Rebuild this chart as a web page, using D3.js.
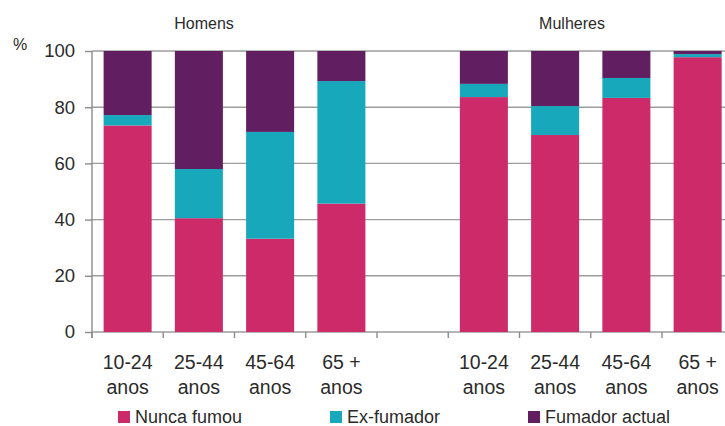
<!DOCTYPE html>
<html lang="pt">
<head>
<meta charset="utf-8">
<script src="https://d3js.org/d3.v7.min.js"></script>
<title>Fumadores por sexo e idade</title>
<style>
    body { margin: 0; background: #fff; }
    text { font-family: "Liberation Sans", Arial, sans-serif; fill: #2b2b2b; }
</style>
</head>
<body>
<div id="chart"></div>
<script>
    // categories
    var groups = ["Homens", "Mulheres"];
    var ages = ["10-24|anos", "25-44|anos", "45-64|anos", "65 +|anos"];
    var series = ["Nunca fumou", "Ex-fumador", "Fumador actual"];
    var yTicks = [0, 20, 40, 60, 80, 100];

    // values (%)
    var homensNunca   = [73.5, 40.5, 33.2, 45.7];
    var homensEx      = [3.7, 17.5, 38.0, 43.6];
    var homensActual  = [22.8, 42.0, 28.8, 10.7];
    var mulheresNunca  = [83.6, 70.1, 83.3, 97.8];
    var mulheresEx     = [4.7, 10.3, 7.1, 1.1];
    var mulheresActual = [11.7, 19.6, 9.6, 1.1];

    var colours = ["#cd2a69", "#17a9bb", "#611f61"];

    var width = 725, height = 426;
    var margin = {top: 51, left: 92, bottom: 94};

    // slots: 4 men, 1 empty gap, 4 women
    var slots = [];
    ages.forEach(function(a, i) {
        slots.push({key: "H" + i, label: a, vals: [homensNunca[i], homensEx[i], homensActual[i]]});
    });
    slots.push({key: "gap", label: "", vals: null});
    ages.forEach(function(a, i) {
        slots.push({key: "M" + i, label: a, vals: [mulheresNunca[i], mulheresEx[i], mulheresActual[i]]});
    });

    var svg = d3.select("#chart").append("svg")
        .attr("width", width)
        .attr("height", height);

    var x = d3.scaleBand()
        .domain(slots.map(function(d) { return d.key; }))
        .range([margin.left, margin.left + 9 * 71.25])
        .paddingInner(0.326)
        .paddingOuter(0.163);

    var y = d3.scaleLinear()
        .domain([0, 100])
        .range([height - margin.bottom, margin.top]);

    // gridlines
    svg.append("g")
        .selectAll("line")
        .data(yTicks)
        .enter().append("line")
        .attr("x1", margin.left)
        .attr("x2", width)
        .attr("y1", function(d) { return y(d); })
        .attr("y2", function(d) { return y(d); })
        .attr("stroke", "#9d9d9d")
        .attr("stroke-width", 1.4);

    // stacked bars
    var stackData = slots.filter(function(d) { return d.vals; }).map(function(d) {
        var o = {key: d.key};
        series.forEach(function(s, j) { o[s] = d.vals[j]; });
        return o;
    });
    var stacked = d3.stack().keys(series)(stackData);

    svg.append("g")
        .selectAll("g")
        .data(stacked)
        .enter().append("g")
        .attr("fill", function(d, i) { return colours[i]; })
        .selectAll("rect")
        .data(function(d) { return d; })
        .enter().append("rect")
        .attr("x", function(d) { return x(d.data.key); })
        .attr("width", x.bandwidth())
        .attr("y", function(d) { return y(d[1]); })
        .attr("height", function(d) { return y(d[0]) - y(d[1]); });

    // y axis
    var yAxis = svg.append("g")
        .attr("transform", "translate(" + margin.left + ",0)")
        .call(d3.axisLeft(y).tickValues(yTicks).tickSize(7).tickPadding(10));
    yAxis.select(".domain").remove();
    yAxis.selectAll(".tick line").attr("stroke", "#8c8c8c").attr("stroke-width", 1.4);
    yAxis.selectAll("text").style("font-size", "18.5px").attr("fill", "#2b2b2b");
    svg.append("line")
        .attr("x1", margin.left).attr("x2", margin.left)
        .attr("y1", y(100)).attr("y2", y(0) + 6)
        .attr("stroke", "#8c8c8c").attr("stroke-width", 1.4);

    // x axis: ticks at band boundaries
    var step = x.step();
    var bounds = d3.range(slots.length + 1).map(function(i) { return margin.left + i * step; });
    svg.append("g")
        .selectAll("line")
        .data(bounds)
        .enter().append("line")
        .attr("x1", function(d) { return d; })
        .attr("x2", function(d) { return d; })
        .attr("y1", y(0))
        .attr("y2", y(0) + 6)
        .attr("stroke", "#8c8c8c")
        .attr("stroke-width", 1.4);

    var labels = svg.append("g")
        .selectAll("text")
        .data(slots.filter(function(d) { return d.label; }))
        .enter().append("text")
        .attr("text-anchor", "middle")
        .style("font-size", "19.5px");
    labels.each(function(d) {
        var parts = d.label.split("|");
        var cx = x(d.key) + x.bandwidth() / 2;
        d3.select(this).append("tspan").attr("x", cx).attr("y", 369).text(parts[0]);
        d3.select(this).append("tspan").attr("x", cx).attr("y", 394).text(parts[1]);
    });

    // group titles
    svg.append("text").attr("x", 204).attr("y", 29).attr("text-anchor", "middle")
        .style("font-size", "16px").text(groups[0]);
    svg.append("text").attr("x", 572).attr("y", 29).attr("text-anchor", "middle")
        .style("font-size", "16px").text(groups[1]);

    // unit
    svg.append("text").attr("x", 13).attr("y", 50).style("font-size", "16px").text("%");

    // legend
    var legendX = [118, 330, 528];
    var legend = svg.append("g")
        .selectAll("g")
        .data(series)
        .enter().append("g")
        .attr("transform", function(d, i) { return "translate(" + legendX[i] + ",411)"; });
    legend.append("rect")
        .attr("width", 12)
        .attr("height", 12)
        .attr("fill", function(d, i) { return colours[i]; });
    legend.append("text")
        .attr("x", 17)
        .attr("y", 12)
        .style("font-size", "18px")
        .text(function(d) { return d; });
</script>
</body>
</html>
